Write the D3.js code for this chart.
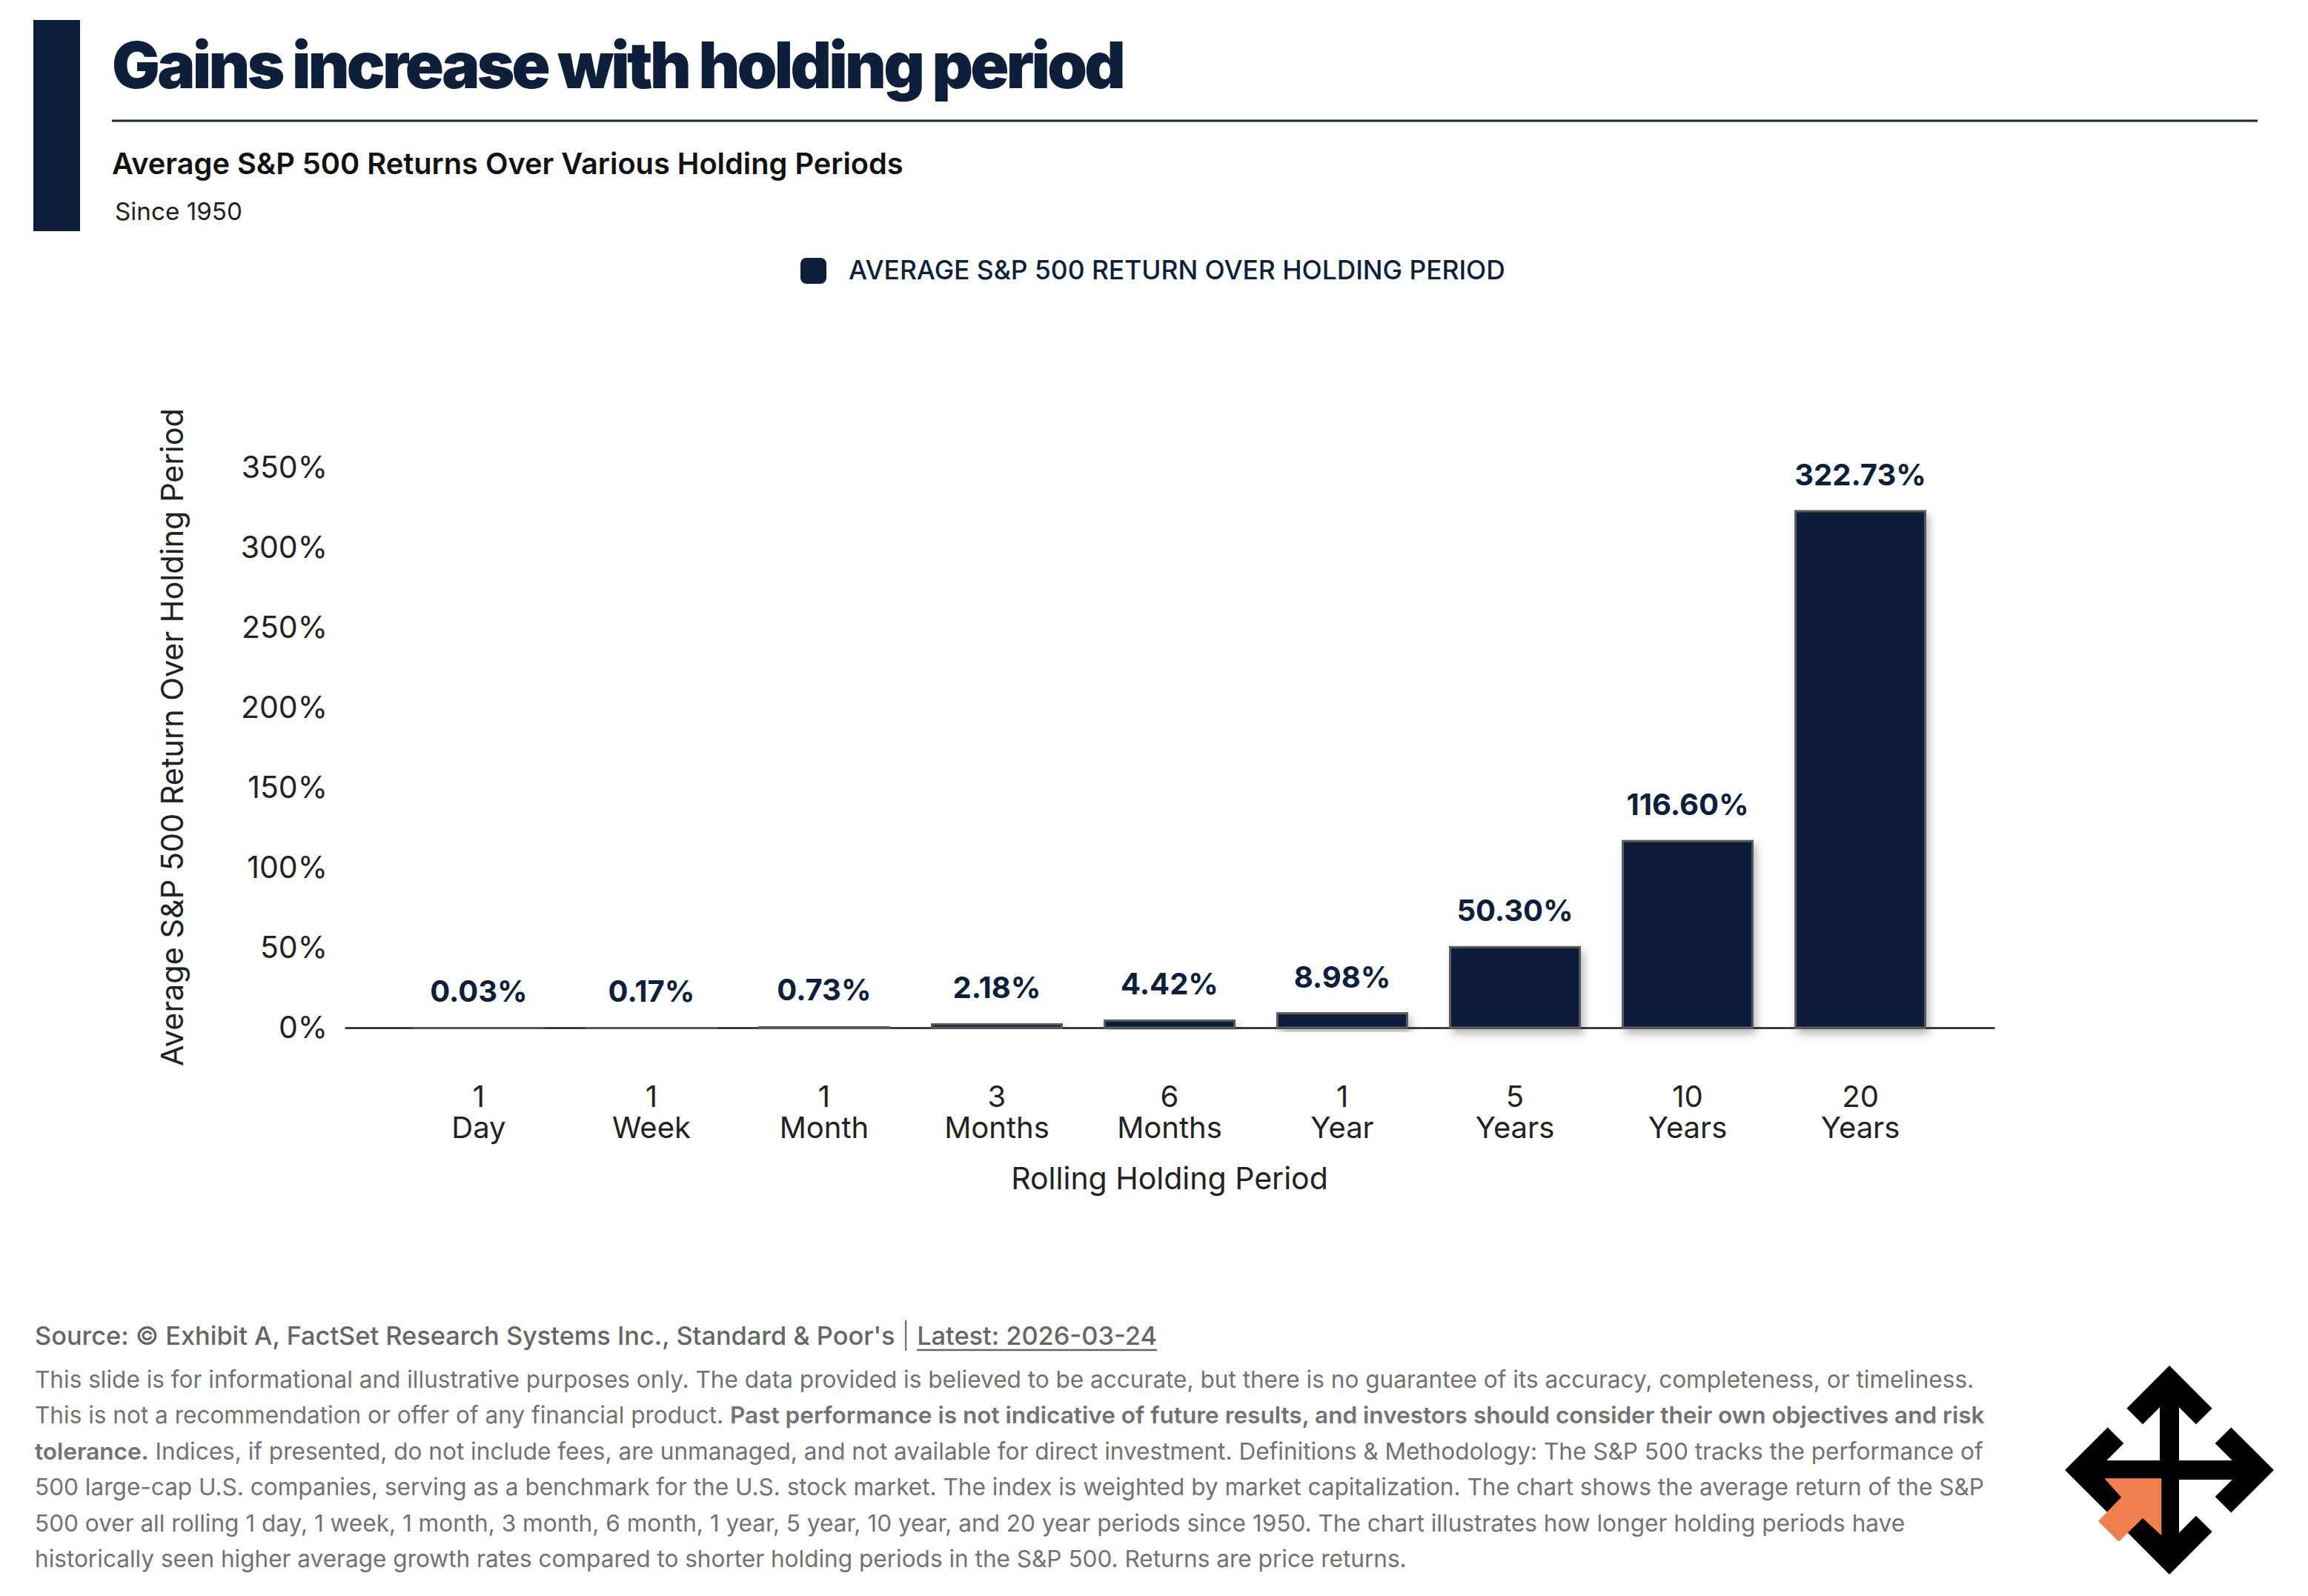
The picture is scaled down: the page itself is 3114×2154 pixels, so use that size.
<!DOCTYPE html>
<html>
<head>
<meta charset="utf-8">
<script src="https://cdn.jsdelivr.net/npm/d3@7"></script>
<style>
  html, body { margin: 0; padding: 0; background: #fff; }
  svg { display: block; font-family: Inter, "Noto Sans", sans-serif; }
</style>
</head>
<body>
<svg id="chart"></svg>
<script>
// chart data
const periodNums = ["1", "1", "1", "3", "6", "1", "5", "10", "20"];
const periodUnits = ["Day", "Week", "Month", "Months", "Months", "Year", "Years", "Years", "Years"];
const avgReturns = [0.03, 0.17, 0.73, 2.18, 4.42, 8.98, 50.30, 116.60, 322.73];
const yTicks = [0, 50, 100, 150, 200, 250, 300, 350];

const title = "Gains increase with holding period";
const subtitle = "Average S&P 500 Returns Over Various Holding Periods";
const since = "Since 1950";
const legendLabel = "AVERAGE S&P 500 RETURN OVER HOLDING PERIOD";
const yTitle = "Average S&P 500 Return Over Holding Period";
const xTitle = "Rolling Holding Period";

const W = 3114, H = 2154;
const NAVY = "#0d1f3a";

const svg = d3.select("#chart").attr("width", W).attr("height", H).attr("viewBox", `0 0 ${W} ${H}`);

// squeeze/stretch a text so it covers the width seen in the picture
function fitSpacing(sel, target) {
  const w = sel.node().getComputedTextLength();
  sel.attr("letter-spacing", (target - w) / sel.text().length);
}
function fitSize(sel, target) {
  const fs = +sel.attr("font-size");
  const w = sel.node().getComputedTextLength();
  sel.attr("font-size", fs * target / w);
  return fs * target / w;
}

// header
svg.append("rect").attr("x", 45).attr("y", 27).attr("width", 63).attr("height", 285).attr("fill", NAVY);

const t = svg.append("text").attr("x", 151).attr("y", 119)
  .attr("font-size", 86).attr("font-weight", 900).attr("fill", NAVY).text(title);
fitSpacing(t, 1364);

svg.append("line").attr("x1", 151).attr("x2", 3046).attr("y1", 163).attr("y2", 163)
  .attr("stroke", "#1a2639").attr("stroke-width", 3);

const st = svg.append("text").attr("x", 151).attr("y", 235)
  .attr("font-size", 34).attr("font-weight", 600).attr("fill", "#111").text(subtitle);
fitSize(st, 1068);

const sn = svg.append("text").attr("x", 155).attr("y", 297)
  .attr("font-size", 32).attr("fill", "#222").text(since);
fitSize(sn, 172);

// legend
svg.append("rect").attr("x", 1080).attr("y", 348).attr("width", 35).attr("height", 35)
  .attr("rx", 8).attr("fill", NAVY);
const lg = svg.append("text").attr("x", 1145).attr("y", 377)
  .attr("font-size", 34).attr("font-weight", 500).attr("fill", NAVY).text(legendLabel);
fitSize(lg, 886);

// scales
const x = d3.scaleBand().domain(d3.range(avgReturns.length)).range([465, 2691])
  .paddingInner(0.249).paddingOuter(0.401);
const y = d3.scaleLinear().domain([0, 350]).range([1387, 631]);

const defs = svg.append("defs");
const f = defs.append("filter").attr("id", "barShadow")
  .attr("x", "-20%").attr("y", "-20%").attr("width", "150%").attr("height", "150%");
f.append("feDropShadow").attr("dx", 4).attr("dy", 7).attr("stdDeviation", 6)
  .attr("flood-color", "#000").attr("flood-opacity", 0.28);

// y axis labels (no line, no ticks)
const yAx = svg.append("g").attr("transform", "translate(442,0)")
  .call(d3.axisLeft(y).tickValues(yTicks).tickSize(0).tickPadding(0).tickFormat(d => d + "%"));
yAx.select(".domain").remove();
yAx.selectAll("text").attr("font-size", 41).attr("font-family", "Inter").attr("fill", "#222");

const yt = svg.append("text").attr("transform", "translate(247,995) rotate(-90)")
  .attr("text-anchor", "middle").attr("font-size", 40).attr("fill", "#222").text(yTitle);
fitSize(yt, 888);

// x axis line
const xAx = svg.append("g").attr("transform", `translate(0,${y(0)})`)
  .call(d3.axisBottom(x).tickSize(0).tickFormat(() => ""));
xAx.select(".domain").attr("stroke", "#1d1d1d").attr("stroke-width", 2.5);

// bars
svg.append("g").selectAll("rect").data(avgReturns).join("rect")
  .attr("x", (d, i) => x(i))
  .attr("y", d => y(d))
  .attr("width", x.bandwidth())
  .attr("height", d => y(0) - y(d))
  .attr("fill", NAVY)
  .attr("stroke", "#5a5a5a").attr("stroke-width", 3)
  .attr("filter", "url(#barShadow)");

// value labels
svg.append("g").selectAll("text").data(avgReturns).join("text")
  .attr("x", (d, i) => x(i) + x.bandwidth() / 2)
  .attr("y", d => y(d) - 35)
  .attr("text-anchor", "middle")
  .attr("font-size", 40).attr("font-weight", 700).attr("fill", NAVY)
  .text(d => d.toFixed(2) + "%");

// two-line category labels
const cat = svg.append("g").selectAll("text").data(periodNums).join("text")
  .attr("x", (d, i) => x(i) + x.bandwidth() / 2)
  .attr("text-anchor", "middle").attr("font-size", 40).attr("fill", "#222");
cat.append("tspan").attr("x", (d, i) => x(i) + x.bandwidth() / 2).attr("y", 1494).text(d => d);
cat.append("tspan").attr("x", (d, i) => x(i) + x.bandwidth() / 2).attr("y", 1536).text((d, i) => periodUnits[i]);

svg.append("text").attr("x", 1578).attr("y", 1605).attr("text-anchor", "middle")
  .attr("font-size", 41).attr("fill", "#222").text(xTitle);

// footer
const src = svg.append("text").attr("x", 47).attr("y", 1815)
  .attr("font-size", 33).attr("font-weight", 500).attr("fill", "#666");
src.append("tspan").text("Source: © Exhibit A, FactSet Research Systems Inc., Standard & Poor's ");
src.append("tspan").attr("font-weight", 300).text("| ");
src.append("tspan").text("Latest: 2026-03-24");
fitSize(src, 1514);
{
  const n = src.node();
  const full = n.getNumberOfChars();
  const start = full - "Latest: 2026-03-24".length;
  const p0 = n.getStartPositionOfChar(start).x;
  const p1 = n.getEndPositionOfChar(full - 1).x;
  svg.append("line").attr("x1", p0).attr("x2", p1).attr("y1", 1822).attr("y2", 1822)
    .attr("stroke", "#666").attr("stroke-width", 2.5);
}

const footLines = [
  [["This slide is for informational and illustrative purposes only. The data provided is believed to be accurate, but there is no guarantee of its accuracy, completeness, or timeliness.", 400]],
  [["This is not a recommendation or offer of any financial product. ", 400],
   ["Past performance is not indicative of future results, and investors should consider their own objectives and risk", 600]],
  [["tolerance.", 600],
   [" Indices, if presented, do not include fees, are unmanaged, and not available for direct investment. Definitions & Methodology: The S&P 500 tracks the performance of", 400]],
  [["500 large-cap U.S. companies, serving as a benchmark for the U.S. stock market. The index is weighted by market capitalization. The chart shows the average return of the S&P", 400]],
  [["500 over all rolling 1 day, 1 week, 1 month, 3 month, 6 month, 1 year, 5 year, 10 year, and 20 year periods since 1950. The chart illustrates how longer holding periods have", 400]],
  [["historically seen higher average growth rates compared to shorter holding periods in the S&P 500. Returns are price returns.", 400]]
];
const foot = svg.append("g").selectAll("text").data(footLines).join("text")
  .attr("x", 47).attr("y", (d, i) => 1873 + i * 48.4)
  .attr("font-size", 30).attr("fill", "#727272");
foot.selectAll("tspan").data(d => d).join("tspan")
  .attr("font-weight", d => d[1]).text(d => d[0]);
const fs = fitSize(d3.select(foot.nodes()[0]), 2617);
foot.attr("font-size", fs);

// logo
const logo = svg.append("g").attr("transform", "translate(2927,1984)");
[0, 90, 180, 270].forEach(a => {
  logo.append("polyline").attr("transform", `rotate(${a})`)
    .attr("points", "-46.8,-72.5 0,-119.3 46.8,-72.5")
    .attr("fill", "none").attr("stroke", "#000").attr("stroke-width", 30.6)
    .attr("stroke-linejoin", "miter").attr("stroke-miterlimit", 10).attr("stroke-linecap", "butt");
});
logo.append("rect").attr("x", -13).attr("y", -122).attr("width", 26).attr("height", 244).attr("fill", "#000");
logo.append("rect").attr("x", -122).attr("y", -13).attr("width", 244).attr("height", 26).attr("fill", "#000");
logo.append("polygon")
  .attr("points", "-87.7,11.3 -10.7,11.3 -10.7,88.3 -36,65 -68.3,96.7 -96,69 -65,36.7")
  .attr("fill", "#f18050");
</script>
</body>
</html>
